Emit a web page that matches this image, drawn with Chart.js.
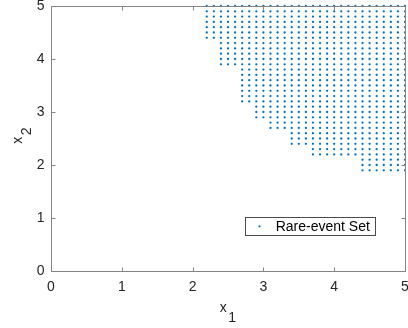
<!DOCTYPE html>
<html>
<head>
<meta charset="utf-8">
<script src="https://cdn.jsdelivr.net/npm/chart.js@4/dist/chart.umd.min.js"></script>
<style>
  html, body { margin: 0; padding: 0; background: #ffffff; }
  #wrap { width: 408px; height: 328px; }
</style>
</head>
<body>
<div id="wrap"><canvas id="c" width="408" height="328"></canvas></div>
<script>
// ---- data ----
const seriesLabel = 'Rare-event Set';
// x positions of the sampled columns
const colX = [2.2, 2.3, 2.4, 2.5, 2.6, 2.7, 2.8, 2.9, 3.0, 3.1, 3.2, 3.3, 3.4, 3.5, 3.6,
              3.7, 3.8, 3.9, 4.0, 4.1, 4.2, 4.3, 4.4, 4.5, 4.6, 4.7, 4.8, 4.9, 5.0];
// lowest sampled x2 value present in each column
const colYMin = [4.4, 4.4, 3.9, 3.9, 3.9, 3.2, 3.2, 2.9, 2.9, 2.7, 2.7, 2.7, 2.4, 2.4, 2.4,
                 2.2, 2.2, 2.2, 2.2, 2.2, 2.2, 2.2, 1.9, 1.9, 1.9, 1.9, 1.9, 1.9, 1.9];
// sampled x2 levels
const yLevels = [1.9, 2.0, 2.1, 2.2, 2.3, 2.4, 2.5, 2.6, 2.7, 2.8, 2.9, 3.0, 3.1, 3.2, 3.3, 3.4,
                 3.5, 3.6, 3.7, 3.8, 3.9, 4.0, 4.1, 4.2, 4.3, 4.4, 4.5, 4.6, 4.7, 4.8, 4.9, 5.0];
const xTicks = [0, 1, 2, 3, 4, 5];
const yTicks = [0, 1, 2, 3, 4, 5];
const xTitle = ['x', '1'];
const yTitle = ['x', '2'];

const points = [];
colX.forEach((x, i) => {
  yLevels.forEach(y => { if (y >= colYMin[i] - 1e-9) points.push({ x: x, y: y }); });
});

const FONT = "'Liberation Sans', Arial, Helvetica, sans-serif";
const TXT = '#262626';
const AXC = '#858585';
const BLUE = '#0072BD';

const framePlugin = {
  id: 'frame',
  afterDraw(chart) {
    const ctx = chart.ctx;
    const a = chart.chartArea;
    const xs = chart.scales.x, ys = chart.scales.y;
    ctx.save();
    // box
    ctx.strokeStyle = AXC;
    ctx.lineWidth = 1;
    const L = Math.round(a.left) + 0.5, R = Math.round(a.right) + 0.5;
    const T = Math.round(a.top) + 0.5, B = Math.round(a.bottom) + 0.5;
    ctx.beginPath();
    ctx.rect(L, T, R - L, B - T);
    ctx.stroke();
    // inward ticks
    const tl = 4;
    ctx.beginPath();
    xTicks.forEach(v => {
      const px = Math.round(xs.getPixelForValue(v)) + 0.5;
      ctx.moveTo(px, B); ctx.lineTo(px, B - tl);
      ctx.moveTo(px, T); ctx.lineTo(px, T + tl);
    });
    yTicks.forEach(v => {
      const py = Math.round(ys.getPixelForValue(v)) + 0.5;
      ctx.moveTo(L, py); ctx.lineTo(L + tl, py);
      ctx.moveTo(R, py); ctx.lineTo(R - tl, py);
    });
    ctx.stroke();

    // axis titles
    ctx.fillStyle = TXT;
    ctx.font = '14px ' + FONT;
    ctx.textBaseline = 'alphabetic';
    ctx.textAlign = 'left';
    const cx = (a.left + a.right) / 2;
    const wx = ctx.measureText(xTitle[0]).width;
    const ws = ctx.measureText(xTitle[1]).width;
    const x0 = cx - (wx + 1.5 + ws) / 2;
    ctx.fillText(xTitle[0], x0, 312.3);
    ctx.fillText(xTitle[1], x0 + wx + 1.5, 321.7);

    const cy = (a.top + a.bottom) / 2;
    ctx.save();
    ctx.translate(21.7, cy);
    ctx.rotate(-Math.PI / 2);
    const wy = ctx.measureText(yTitle[0]).width;
    const wys = ctx.measureText(yTitle[1]).width;
    const y0 = -(wy + 1.5 + wys) / 2 + 3;
    ctx.fillText(yTitle[0], y0, 0);
    ctx.fillText(yTitle[1], y0 + wy + 1.5, 9.4);
    ctx.restore();

    // legend
    const lx = 245.5, ly = 217.5, lw = 130, lh = 18;
    ctx.fillStyle = '#ffffff';
    ctx.fillRect(lx, ly, lw, lh);
    ctx.strokeStyle = '#4a4a4a';
    ctx.lineWidth = 1;
    ctx.strokeRect(lx, ly, lw, lh);
    ctx.fillStyle = BLUE;
    ctx.beginPath();
    ctx.arc(259.5, 226.3, 1.1, 0, Math.PI * 2);
    ctx.fill();
    ctx.fillStyle = '#000000';
    ctx.font = '14px ' + FONT;
    ctx.textBaseline = 'alphabetic';
    ctx.fillText(chart.data.datasets[0].label, 275.7, 231.3);
    ctx.restore();
  }
};

new Chart(document.getElementById('c'), {
  type: 'scatter',
  data: {
    datasets: [{
      label: seriesLabel,
      data: points,
      backgroundColor: BLUE,
      borderWidth: 0,
      pointRadius: 1.15,
      pointHoverRadius: 1.15,
      clip: false
    }]
  },
  options: {
    responsive: false,
    animation: false,
    events: [],
    layout: { padding: { left: 0, right: 3, top: 6, bottom: 0 } },
    plugins: { legend: { display: false }, tooltip: { enabled: false } },
    scales: {
      x: {
        type: 'linear', min: 0, max: 5,
        afterBuildTicks(s) { s.ticks = xTicks.map(v => ({ value: v })); },
        afterFit(s) { s.height = 57; s.paddingLeft = 0; s.paddingRight = 0; },
        grid: { display: false, drawTicks: false },
        border: { display: false },
        ticks: { color: TXT, font: { family: FONT, size: 14 }, padding: 8, maxRotation: 0, autoSkip: false }
      },
      y: {
        type: 'linear', min: 0, max: 5,
        afterBuildTicks(s) { s.ticks = yTicks.map(v => ({ value: v })); },
        afterFit(s) { s.width = 51; s.paddingTop = 0; s.paddingBottom = 0; },
        grid: { display: false, drawTicks: false },
        border: { display: false },
        ticks: { color: TXT, font: { family: FONT, size: 14 }, padding: 6.5, autoSkip: false }
      }
    }
  },
  plugins: [framePlugin]
});
</script>
</body>
</html>
